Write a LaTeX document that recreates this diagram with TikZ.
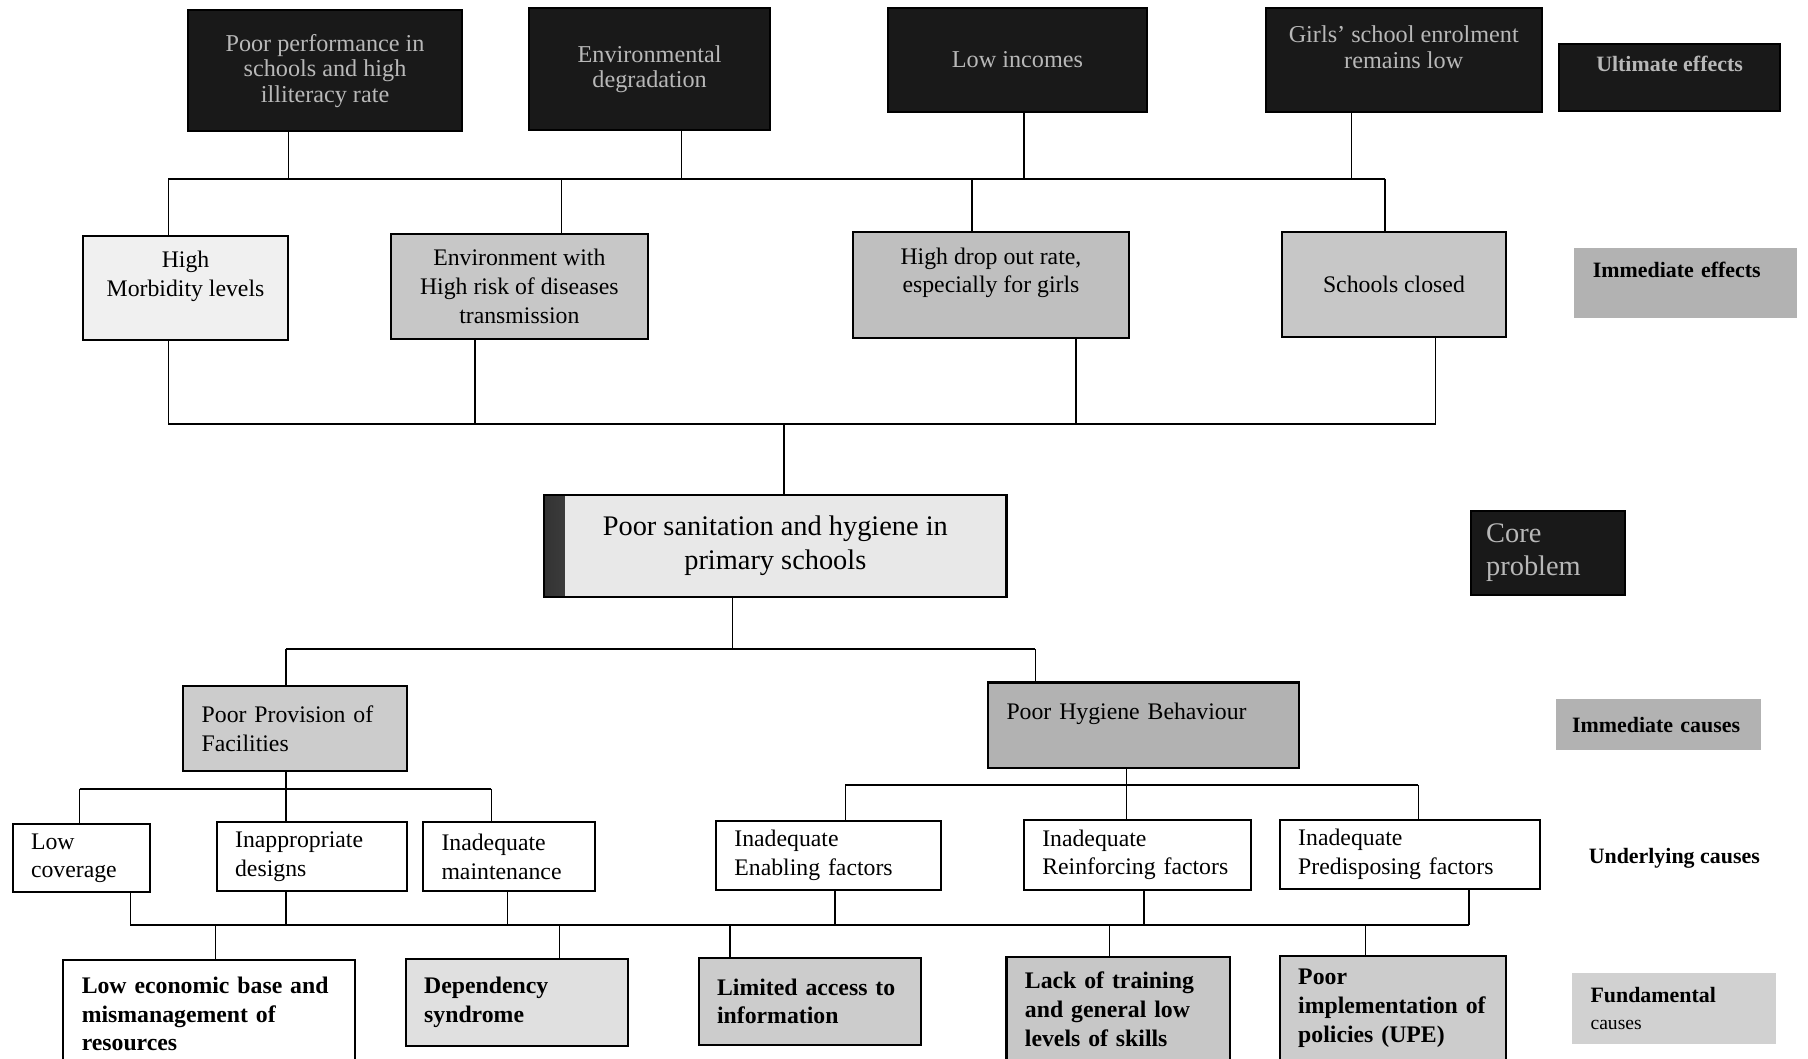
\documentclass[tikz,border=0pt]{standalone}
\usepackage{fontspec}
\setmainfont{Liberation Serif}
\begin{document}
\begin{tikzpicture}[x=0.5pt,y=0.5pt,yscale=-1,
  box/.style={draw, line width=0.9pt, anchor=north west, inner xsep=8pt, inner ysep=2pt, font=\fontsize{10.3}{12.5}\selectfont},
  midbox/.style={box, align=center},
  leftbox/.style={box, align=left},
  boldbox/.style={leftbox, font=\bfseries\fontsize{10.3}{12.5}\selectfont},
  darkbox/.style={draw=black, line width=0.9pt, fill=black!90, text=black!28, anchor=north west, align=center, inner sep=2pt, font=\fontsize{10.5}{11}\selectfont},
  tag/.style={anchor=north west, align=left, inner xsep=8pt, inner ysep=2pt, font=\bfseries\fontsize{9.5}{11.5}\selectfont},
  bus/.style={line width=1pt},
  twig/.style={line width=0.6pt}]
\useasboundingbox (0,0) rectangle (1568,918);

%Shape: Rectangle (ultimate effects)
\node[darkbox, minimum width=119pt, minimum height=52.5pt] (ult1) at (162,8) {Poor performance in\\schools and high\\illiteracy rate};
\node[darkbox, minimum width=104.5pt, minimum height=53pt] (ult2) at (458,6) {Environmental\\degradation};
\node[darkbox, minimum width=112.5pt, minimum height=45pt] (ult3) at (769,6) {Low incomes};
\node[darkbox, minimum width=119.5pt, minimum height=45pt] (ult4) at (1097,6) {Girls' school enrolment\\remains low\\\mbox{}};
\node[darkbox, minimum width=96pt, minimum height=29pt, font=\bfseries\fontsize{9.5}{11.5}\selectfont] (tagult) at (1351,37) {Ultimate effects\\\mbox{}};

%Shape: Rectangle (immediate effects)
\node[midbox, fill=black!6, minimum width=89pt, minimum height=45pt] (eff1) at (71,204) {High\\Morbidity levels\\\mbox{}};
\node[midbox, fill=black!22, minimum width=111.5pt, minimum height=45.5pt] (eff2) at (338,202) {Environment with\\High risk of diseases\\transmission};
\node[midbox, fill=black!25, minimum width=119.5pt, minimum height=46pt] (eff3) at (739,200) {High drop out rate,\\especially for girls\\\mbox{}};
\node[midbox, fill=black!22, minimum width=97pt, minimum height=45.5pt] (eff4) at (1111,200) {Schools closed};
\node[tag, fill=black!30, text width=80.5pt, minimum height=30pt] (tageff) at (1365,215) {Immediate effects\\\mbox{}};

%Shape: Rectangle (core problem)
\node[midbox, fill=black!9, minimum width=200.5pt, minimum height=44.5pt, font=\fontsize{12.3}{15}\selectfont,
  path picture={\shade[left color=black!80, right color=black!9] (path picture bounding box.north west) rectangle ([xshift=9pt]path picture bounding box.south west);}] (core) at (471,428) {Poor sanitation and hygiene in\\primary schools};
\node[darkbox, align=left, text width=53.5pt, inner xsep=6.5pt, minimum height=36.5pt, font=\fontsize{12.3}{14.5}\selectfont] (tagcore) at (1275,442) {Core\\problem};

%Shape: Rectangle (immediate causes)
\node[leftbox, fill=black!20, text width=81pt, minimum height=37pt] (prov) at (158,594) {Poor Provision of\\Facilities};
\node[leftbox, fill=black!30, text width=119pt, minimum height=37pt] (hyg) at (856,591) {Poor Hygiene Behaviour\\\mbox{}};
\node[tag, fill=black!30, inner xsep=7pt, text width=75pt, minimum height=22pt] (tagimm) at (1349,606) {Immediate causes};

%Shape: Rectangle (underlying causes)
\node[leftbox, text width=43.5pt, minimum height=29.5pt] (cover) at (10,714) {Low\\coverage};
\node[leftbox, text width=66.5pt, minimum height=30pt] (design) at (187,712) {Inappropriate\\designs};
\node[leftbox, text width=58.5pt, minimum height=30pt] (maint) at (366,712) {Inadequate\\maintenance};
\node[leftbox, text width=81.5pt, minimum height=30pt] (enab) at (620,711) {Inadequate\\Enabling factors};
\node[leftbox, text width=82.5pt, minimum height=30.5pt] (reinf) at (887,710) {Inadequate\\Reinforcing factors};
\node[leftbox, text width=97pt, minimum height=30pt] (predis) at (1109,710) {Inadequate\\Predisposing factors};
\node[tag, anchor=center] (tagund) at (1452,744) {Underlying causes};

%Shape: Rectangle (fundamental causes)
\node[boldbox, text width=110.5pt, minimum height=46.5pt] (econ) at (54,832) {Low economic base and\\mismanagement of\\resources};
\node[boldbox, fill=black!12, text width=80.5pt, minimum height=37.5pt] (depend) at (351,831) {Dependency\\syndrome};
\node[boldbox, fill=black!20, text width=80.5pt, minimum height=37.5pt] (info) at (605,830) {Limited access to\\information};
\node[boldbox, fill=black!22, text width=81pt, minimum height=45.5pt] (skill) at (872,829) {Lack of training\\and general low\\levels of skills};
\node[boldbox, fill=black!20, text width=82pt, minimum height=45.5pt] (policy) at (1109,828) {Poor\\implementation of\\policies (UPE)};
\node[tag, fill=black!18, text width=72.5pt, minimum height=31pt] (tagfund) at (1363,843) {Fundamental\\{\mdseries\fontsize{8.5}{11}\selectfont causes}};

%Straight Lines (ultimate to immediate effects)
\coordinate (ja1) at (146,155);
\coordinate (ja2) at (250,155);
\coordinate (ja3) at (487,155);
\coordinate (ja4) at (591,155);
\coordinate (ja5) at (843,155);
\coordinate (ja6) at (888,155);
\coordinate (ja7) at (1172,155);
\coordinate (ja8) at (1201,155);
\draw[bus] (ja1) -- (ja8);
\draw[twig] (ja2) -- (ja2 |- ult1.south);
\draw[twig] (ja4) -- (ja4 |- ult2.south);
\draw[twig] (ja6) -- (ja6 |- ult3.south);
\draw[twig] (ja7) -- (ja7 |- ult4.south);
\draw[twig] (ja1) -- (ja1 |- eff1.north);
\draw[twig] (ja3) -- (ja3 |- eff2.north);
\draw[twig] (ja5) -- (ja5 |- eff3.north);
\draw[twig] (ja8) -- (ja8 |- eff4.north);

%Straight Lines (immediate effects to core)
\coordinate (jb1) at (146,368);
\coordinate (jb2) at (412,368);
\coordinate (jb3) at (680,368);
\coordinate (jb4) at (933,368);
\coordinate (jb5) at (1245,368);
\draw[bus] (jb1) -- (jb5);
\draw[twig] (jb1) -- (jb1 |- eff1.south);
\draw[twig] (jb2) -- (jb2 |- eff2.south);
\draw[twig] (jb4) -- (jb4 |- eff3.south);
\draw[twig] (jb5) -- (jb5 |- eff4.south);
\draw[twig] (jb3) -- (jb3 |- core.north);

%Straight Lines (core to immediate causes)
\coordinate (jc1) at (248,563);
\coordinate (jc2) at (635,563);
\coordinate (jc3) at (898,563);
\draw[bus] (jc1) -- (jc3);
\draw[twig] (jc2) -- (jc2 |- core.south);
\draw[twig] (jc1) -- (jc1 |- prov.north);
\draw[twig] (jc3) -- (jc3 |- hyg.north);

%Straight Lines (immediate to underlying causes)
\coordinate (jd1) at (69,684);
\coordinate (jd2) at (248,684);
\coordinate (jd3) at (426,684);
\draw[bus] (jd1) -- (jd3);
\draw[twig] (jd2) -- (jd2 |- prov.south);
\draw[twig] (jd1) -- (jd1 |- cover.north);
\draw[twig] (jd2) -- (jd2 |- design.north);
\draw[twig] (jd3) -- (jd3 |- maint.north);
\coordinate (jf1) at (733,681);
\coordinate (jf2) at (977,681);
\coordinate (jf3) at (1230,681);
\draw[bus] (jf1) -- (jf3);
\draw[twig] (jf2) -- (jf2 |- hyg.south);
\draw[twig] (jf1) -- (jf1 |- enab.north);
\draw[twig] (jf2) -- (jf2 |- reinf.north);
\draw[twig] (jf3) -- (jf3 |- predis.north);

%Straight Lines (underlying to fundamental causes)
\coordinate (jg1) at (113,802);
\coordinate (jg2) at (187,802);
\coordinate (jg3) at (248,802);
\coordinate (jg4) at (440,802);
\coordinate (jg5) at (485,802);
\coordinate (jg6) at (633,802);
\coordinate (jg7) at (724,802);
\coordinate (jg8) at (962,802);
\coordinate (jg9) at (992,802);
\coordinate (jg10) at (1184,802);
\coordinate (jg11) at (1274,802);
\draw[bus] (jg1) -- (jg11);
\draw[twig] (jg1) -- (jg1 |- cover.south);
\draw[twig] (jg3) -- (jg3 |- design.south);
\draw[twig] (jg4) -- (jg4 |- maint.south);
\draw[twig] (jg7) -- (jg7 |- enab.south);
\draw[twig] (jg9) -- (jg9 |- reinf.south);
\draw[twig] (jg11) -- (jg11 |- predis.south);
\draw[twig] (jg2) -- (jg2 |- econ.north);
\draw[twig] (jg5) -- (jg5 |- depend.north);
\draw[twig] (jg6) -- (jg6 |- info.north);
\draw[twig] (jg8) -- (jg8 |- skill.north);
\draw[twig] (jg10) -- (jg10 |- policy.north);

\end{tikzpicture}
\end{document}
